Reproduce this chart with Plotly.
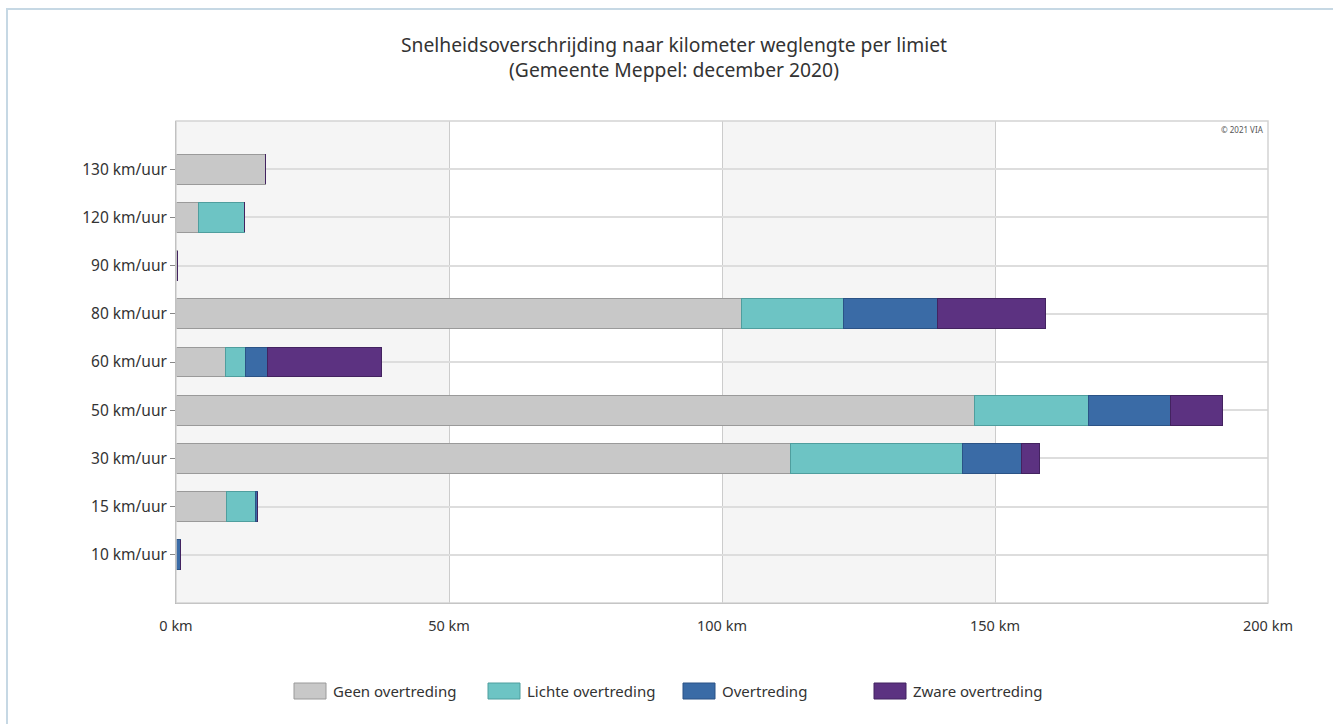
import plotly.graph_objects as go

# Data (km weglengte per limiet)
categories = ["10 km/uur", "15 km/uur", "30 km/uur", "50 km/uur", "60 km/uur",
              "80 km/uur", "90 km/uur", "120 km/uur", "130 km/uur"]
geen = [0.0, 9.3, 112.6, 146.2, 9.0, 103.5, 0.2, 4.2, 16.3]
lichte = [0.0, 5.2, 31.5, 21.0, 3.8, 18.7, 0.0, 8.3, 0.0]
overtreding = [0.8, 0.5, 10.7, 15.0, 4.0, 17.2, 0.0, 0.0, 0.0]
zware = [0.0, 0.0, 3.4, 9.4, 20.9, 19.8, 0.0, 0.0, 0.0]

series_names = ["Geen overtreding", "Lichte overtreding", "Overtreding", "Zware overtreding"]
series_vals = [geen, lichte, overtreding, zware]
colors = ["#c8c8c8", "#6dc4c4", "#3a6ba6", "#5c3281"]
edge_colors = ["#9a9a9a", "#4f9e9e", "#2b5386", "#432360"]

x_ticks = [0, 50, 100, 150, 200]
x_tick_labels = ["0 km", "50 km", "100 km", "150 km", "200 km"]

FONT = "Noto Sans"
TXT = "#333333"

fig = go.Figure()
for name, vals, c, ec in zip(series_names, series_vals, colors, edge_colors):
    fig.add_trace(go.Bar(
        y=list(range(len(categories))), x=vals, name=name, orientation="h",
        marker=dict(color=c, line=dict(color=ec, width=1)),
        width=0.62, showlegend=False,
    ))

L, R, T, B = 176, 65, 121, 121
W, H = 1333, 724
pw, ph = W - L - R, H - T - B

def px2paper_x(px):
    return (px - L) / pw

def py2paper_y(py):
    return (H - B - py) / ph

shapes = []
# alternating background bands
for x0, x1 in [(0, 50), (100, 150)]:
    shapes.append(dict(type="rect", xref="x", yref="paper", x0=x0, x1=x1, y0=0, y1=1,
                       fillcolor="#f5f5f5", line=dict(width=0), layer="below"))
# plot area frame
shapes.append(dict(type="rect", xref="paper", yref="paper", x0=0, x1=1, y0=0, y1=1,
                   line=dict(color="#d4d4d4", width=1.5), fillcolor="rgba(0,0,0,0)", layer="above"))
# outer container border
shapes.append(dict(type="rect", xref="paper", yref="paper",
                   x0=px2paper_x(7), x1=px2paper_x(1345), y0=py2paper_y(740), y1=py2paper_y(9),
                   line=dict(color="#c6d8e4", width=2), fillcolor="rgba(0,0,0,0)", layer="below"))

annotations = []
# custom legend (wide swatches like the original)
legend_x = [294, 488, 683, 874]
legend_y = 691
for name, c, ec, lx in zip(series_names, colors, edge_colors, legend_x):
    shapes.append(dict(type="rect", xref="paper", yref="paper",
                       x0=px2paper_x(lx), x1=px2paper_x(lx + 32),
                       y0=py2paper_y(legend_y + 8), y1=py2paper_y(legend_y - 8),
                       fillcolor=c, line=dict(color=ec, width=1)))
    annotations.append(dict(xref="paper", yref="paper", x=px2paper_x(lx + 37), y=py2paper_y(legend_y),
                            text=name, showarrow=False, xanchor="left", yanchor="middle",
                            font=dict(family=FONT, size=15, color=TXT)))

annotations.append(dict(xref="paper", yref="paper", x=px2paper_x(1266), y=py2paper_y(122),
                        text="© 2021 VIA", showarrow=False, xanchor="right", yanchor="top",
                        font=dict(family=FONT, size=8, color="#555555")))

fig.update_layout(
    width=W, height=H,
    margin=dict(l=L, r=R, t=T, b=B),
    barmode="stack",
    paper_bgcolor="white", plot_bgcolor="white",
    title=dict(text="Snelheidsoverschrijding naar kilometer weglengte per limiet<br>(Gemeente Meppel: december 2020)",
               x=674 / W, xref="container", xanchor="center",
               y=1 - 52 / H, yref="container", yanchor="middle",
               font=dict(family=FONT, size=19.3, color=TXT)),
    font=dict(family=FONT, size=14, color=TXT),
    shapes=shapes, annotations=annotations,
    bargap=0.38,
)
fig.update_xaxes(range=[0, 200], tickvals=x_ticks, ticktext=x_tick_labels,
                 showgrid=True, gridcolor="#cccccc", gridwidth=1,
                 showline=True, linecolor="#999999", linewidth=1,
                 ticks="", ticklabelstandoff=10, zeroline=False,
                 tickfont=dict(family=FONT, size=14.5, color=TXT), fixedrange=True)
fig.update_yaxes(range=[-1, 9], tickvals=list(range(len(categories))), ticktext=categories,
                 showgrid=True, gridcolor="#dddddd", gridwidth=1.5,
                 showline=True, linecolor="#888888", linewidth=1,
                 ticks="outside", ticklen=5, tickcolor="#888888",
                 zeroline=False, tickfont=dict(family=FONT, size=15.5, color=TXT), fixedrange=True)

fig.write_html("out.html")
